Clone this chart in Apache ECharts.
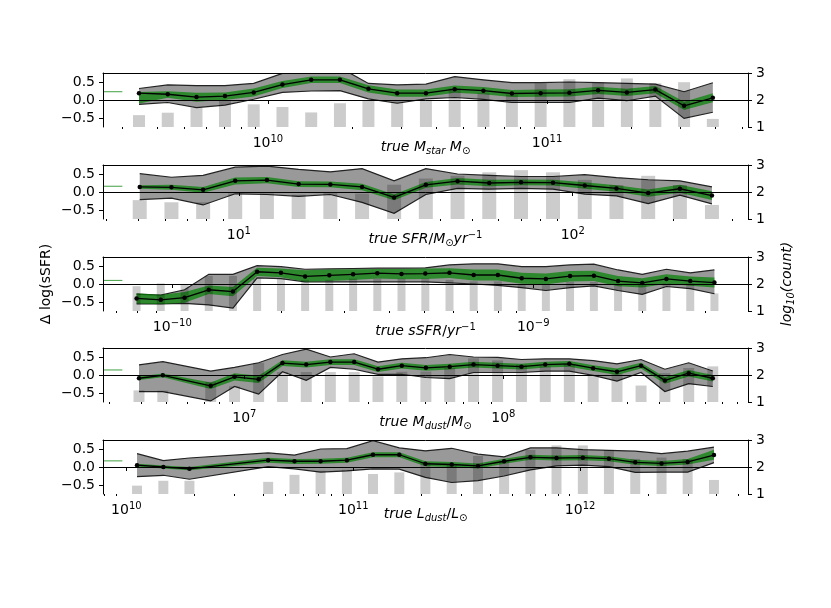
<!DOCTYPE html>
<html>
<head>
<meta charset="utf-8">
<script src="https://cdn.jsdelivr.net/npm/echarts@6/dist/echarts.min.js"></script>
<style>
  html, body { margin: 0; padding: 0; background: #fff; }
  #chart { width: 831px; height: 608px; }
</style>
</head>
<body>
<div id="chart"></div>
<script>
// bin centres are log10 of the x quantity
// --- panel 1: stellar mass
const mstarBins = [9.538, 9.641, 9.744, 9.846, 9.949, 10.052, 10.155, 10.258, 10.360, 10.463, 10.566,
                   10.669, 10.772, 10.874, 10.977, 11.080, 11.183, 11.286, 11.388, 11.491, 11.594];
const mstarMed = [0.19, 0.16, 0.08, 0.11, 0.21, 0.43, 0.56, 0.56, 0.31, 0.19, 0.19, 0.30, 0.26, 0.18, 0.19, 0.20, 0.27, 0.21, 0.29, -0.16, 0.06];
const mstarLo  = [-0.12, -0.07, -0.21, -0.14, 0.02, 0.21, 0.25, 0.26, 0.03, -0.09, 0.03, 0.07, 0.02, -0.07, -0.07, -0.07, 0.05, -0.02, 0.11, -0.51, -0.34];
const mstarHi  = [0.32, 0.42, 0.40, 0.40, 0.46, 0.74, 0.90, 0.90, 0.46, 0.42, 0.44, 0.65, 0.56, 0.48, 0.48, 0.50, 0.48, 0.46, 0.44, 0.23, 0.48];
const mstarGLo = [-0.10, 0.06, -0.05, 0.00, 0.10, 0.33, 0.47, 0.47, 0.21, 0.09, 0.09, 0.20, 0.16, 0.08, 0.09, 0.10, 0.17, 0.11, 0.19, -0.28, -0.06];
const mstarGHi = [0.22, 0.24, 0.20, 0.21, 0.32, 0.53, 0.65, 0.65, 0.41, 0.29, 0.29, 0.40, 0.36, 0.28, 0.29, 0.30, 0.37, 0.31, 0.39, -0.05, 0.19];
const mstarCount = [1.44, 1.53, 1.71, 2.00, 1.84, 1.74, 1.54, 1.88, 1.97, 1.94, 1.97, 2.43, 2.25, 2.20, 2.62, 2.77, 2.64, 2.80, 2.62, 2.66, 1.30];

// --- panel 2: SFR
const sfrBins = [0.703, 0.798, 0.893, 0.989, 1.084, 1.179, 1.274, 1.369, 1.465, 1.560,
                 1.655, 1.750, 1.845, 1.941, 2.036, 2.131, 2.226, 2.321, 2.417];
const sfrMed = [0.14, 0.13, 0.06, 0.31, 0.33, 0.22, 0.21, 0.14, -0.15, 0.20, 0.30, 0.25, 0.27, 0.26, 0.18, 0.10, -0.03, 0.09, -0.10];
const sfrLo  = [-0.21, -0.17, -0.36, -0.05, -0.07, -0.12, -0.07, -0.29, -0.59, -0.07, 0.10, 0.08, 0.10, 0.08, -0.06, -0.11, -0.32, -0.09, -0.33];
const sfrHi  = [0.51, 0.41, 0.46, 0.69, 0.72, 0.63, 0.56, 0.65, 0.31, 0.65, 0.50, 0.46, 0.43, 0.43, 0.48, 0.40, 0.34, 0.31, 0.14];
const sfrGLo = [0.09, 0.06, -0.02, 0.21, 0.24, 0.14, 0.13, 0.05, -0.23, 0.12, 0.21, 0.16, 0.19, 0.18, 0.09, 0.01, -0.13, -0.02, -0.22];
const sfrGHi = [0.19, 0.20, 0.14, 0.40, 0.42, 0.30, 0.29, 0.23, -0.07, 0.28, 0.39, 0.34, 0.35, 0.34, 0.27, 0.19, 0.07, 0.20, 0.02];
const sfrCount = [1.70, 1.62, 1.62, 1.95, 1.95, 1.90, 2.00, 1.94, 2.27, 2.50, 2.60, 2.73, 2.81, 2.73, 2.45, 2.26, 2.60, 2.26, 1.52];

// --- panel 3: sSFR
const ssfrBins = [-10.099, -10.032, -9.966, -9.899, -9.832, -9.765, -9.699, -9.632, -9.565, -9.499, -9.432, -9.365, -9.299,
                  -9.232, -9.165, -9.098, -9.032, -8.965, -8.898, -8.832, -8.765, -8.698, -8.631, -8.565, -8.498];
const ssfrMed = [-0.40, -0.44, -0.38, -0.16, -0.21, 0.34, 0.31, 0.21, 0.24, 0.27, 0.30, 0.28, 0.29, 0.31, 0.25, 0.25, 0.16, 0.14, 0.22, 0.23, 0.08, 0.03, 0.14, 0.08, 0.04];
const ssfrLo  = [-0.55, -0.55, -0.54, -0.58, -0.67, 0.17, 0.15, 0.06, 0.06, 0.06, 0.06, 0.06, 0.06, 0.03, 0.00, -0.04, -0.10, -0.18, -0.10, -0.05, -0.18, -0.29, -0.07, -0.13, -0.27];
const ssfrHi  = [-0.28, -0.31, -0.16, 0.27, 0.27, 0.51, 0.48, 0.41, 0.42, 0.43, 0.44, 0.44, 0.45, 0.53, 0.56, 0.56, 0.48, 0.48, 0.53, 0.55, 0.39, 0.27, 0.41, 0.31, 0.39];
const ssfrGLo = [-0.54, -0.56, -0.52, -0.28, -0.34, 0.22, 0.19, 0.06, 0.08, 0.11, 0.15, 0.13, 0.14, 0.17, 0.10, 0.10, 0.01, -0.01, 0.07, 0.08, -0.06, -0.10, 0.01, -0.05, -0.10];
const ssfrGHi = [-0.26, -0.30, -0.22, -0.04, -0.08, 0.45, 0.43, 0.38, 0.40, 0.41, 0.42, 0.42, 0.43, 0.44, 0.40, 0.40, 0.31, 0.29, 0.36, 0.37, 0.22, 0.16, 0.27, 0.21, 0.18];
const ssfrCount = [1.92, 2.02, 1.98, 2.30, 2.30, 2.20, 2.20, 2.15, 2.15, 2.20, 2.20, 2.20, 2.20, 2.15, 2.10, 2.10, 2.00, 2.00, 2.08, 2.08, 1.96, 1.96, 2.02, 2.02, 1.65];

// --- panel 4: dust mass (null = empty bin)
const mdustBins = [6.593, 6.685, 6.778, 6.870, 6.962, 7.055, 7.147, 7.239, 7.332, 7.424, 7.516, 7.608, 7.701,
                   7.793, 7.885, 7.978, 8.070, 8.162, 8.255, 8.347, 8.439, 8.532, 8.624, 8.716, 8.809];
const mdustMed = [-0.09, -0.01, null, -0.30, -0.05, -0.12, 0.33, 0.29, 0.36, 0.36, 0.16, 0.26, 0.20, 0.23, 0.29, 0.26, 0.23, 0.29, 0.31, 0.19, 0.09, 0.26, -0.15, 0.05, -0.09];
const mdustLo  = [-0.46, -0.46, null, -0.72, -0.32, -0.53, 0.09, -0.15, 0.21, 0.16, 0.02, 0.02, -0.07, -0.10, 0.07, 0.07, 0.07, 0.11, 0.11, -0.01, -0.17, 0.07, -0.46, -0.24, -0.32];
const mdustHi  = [0.28, 0.37, null, 0.11, 0.21, 0.34, 0.57, 0.72, 0.50, 0.59, 0.36, 0.45, 0.48, 0.57, 0.50, 0.49, 0.43, 0.45, 0.45, 0.40, 0.31, 0.43, 0.16, 0.34, 0.11];
const mdustGLo = [-0.14, -0.06, null, -0.39, -0.15, -0.22, 0.25, 0.21, 0.28, 0.28, 0.08, 0.18, 0.12, 0.15, 0.21, 0.18, 0.15, 0.21, 0.23, 0.11, 0.00, 0.18, -0.24, -0.04, -0.18];
const mdustGHi = [-0.04, 0.04, null, -0.21, 0.05, -0.02, 0.41, 0.37, 0.44, 0.44, 0.24, 0.34, 0.28, 0.31, 0.37, 0.34, 0.31, 0.37, 0.39, 0.27, 0.18, 0.34, -0.06, 0.14, 0.00];
const mdustCount = [1.43, 1.42, null, 1.75, 1.58, 2.45, 2.11, 2.11, 2.11, 2.11, 1.95, 2.12, 2.13, 2.26, 2.62, 2.54, 2.38, 2.32, 2.38, 2.01, 2.05, 1.61, 2.07, 2.26, 2.32];

// --- panel 5: dust luminosity
const ldustBins = [10.047, 10.163, 10.278, 10.394, 10.509, 10.625, 10.741, 10.856, 10.972, 11.087, 11.203, 11.318,
                   11.434, 11.550, 11.665, 11.781, 11.896, 12.012, 12.127, 12.243, 12.359, 12.474, 12.590];
const ldustMed = [0.05, 0.00, -0.05, null, null, 0.19, 0.16, 0.16, 0.19, 0.34, 0.34, 0.09, 0.07, 0.03, 0.16, 0.27, 0.25, 0.26, 0.23, 0.13, 0.10, 0.14, 0.33];
const ldustLo  = [-0.27, -0.23, -0.34, null, null, 0.01, -0.05, -0.14, -0.11, -0.05, -0.06, -0.29, -0.43, -0.38, -0.25, -0.08, 0.03, 0.05, 0.01, -0.15, -0.14, -0.14, 0.12];
const ldustHi  = [0.37, 0.18, 0.25, null, null, 0.39, 0.33, 0.50, 0.51, 0.73, 0.53, 0.45, 0.52, 0.36, 0.28, 0.53, 0.53, 0.48, 0.46, 0.44, 0.37, 0.44, 0.55];
const ldustGLo = [0.01, -0.04, -0.09, null, null, 0.12, 0.08, 0.09, 0.12, 0.27, 0.27, 0.02, 0.00, -0.04, 0.09, 0.20, 0.18, 0.19, 0.16, 0.06, 0.03, 0.07, 0.20];
const ldustGHi = [0.09, 0.04, 0.00, null, null, 0.26, 0.22, 0.23, 0.26, 0.41, 0.41, 0.16, 0.14, 0.10, 0.23, 0.34, 0.32, 0.33, 0.30, 0.20, 0.17, 0.22, 0.48];
const ldustCount = [1.31, 1.49, 1.49, null, null, 1.45, 1.71, 1.86, 1.90, 1.74, 1.80, 2.17, 2.10, 2.41, 2.23, 2.63, 2.80, 2.80, 2.63, 2.30, 2.35, 2.29, 1.52];

// short green reference marks at the left of each panel
const refLevels = [0.23, 0.16, 0.10, 0.14, 0.17];

const panels = [
  { bins: mstarBins, med: mstarMed, lo: mstarLo, hi: mstarHi, glo: mstarGLo, ghi: mstarGHi, count: mstarCount,
    min: 9.409, max: 11.72, barW: 12, name: 'true M{sub|star} M{sub|⊙}' },
  { bins: sfrBins, med: sfrMed, lo: sfrLo, hi: sfrHi, glo: sfrGLo, ghi: sfrGHi, count: sfrCount,
    min: 0.593, max: 2.525, barW: 14, name: 'true SFR{up|/}M{sub|⊙}yr{sup|−1}' },
  { bins: ssfrBins, med: ssfrMed, lo: ssfrLo, hi: ssfrHi, glo: ssfrGLo, ghi: ssfrGHi, count: ssfrCount,
    min: -10.192, max: -8.405, barW: 8, name: 'true sSFR{up|/}yr{sup|−1}' },
  { bins: mdustBins, med: mdustMed, lo: mdustLo, hi: mdustHi, glo: mdustGLo, ghi: mdustGHi, count: mdustCount,
    min: 6.454, max: 8.945, barW: 11, name: 'true M{sub|dust}{up|/}M{sub|⊙}' },
  { bins: ldustBins, med: ldustMed, lo: ldustLo, hi: ldustHi, glo: ldustGLo, ghi: ldustGHi, count: ldustCount,
    min: 9.897, max: 12.74, barW: 10, name: 'true L{sub|dust}{up|/}L{sub|⊙}' }
];

const tops = [73, 165, 257, 348, 440];
const FONT = 'DejaVu Sans';

const pairs = (xs, ys) => xs.map((x, i) => [x, ys[i]]).filter(p => p[1] != null);
const triples = (xs, lo, hi) => xs.map((x, i) => [x, lo[i], hi[i]]).filter(p => p[1] != null);

function majorTicks(min, max) {
  const out = [];
  for (let e = Math.ceil(min); e <= Math.floor(max); e++) out.push(e);
  return out;
}
function minorTicks(min, max) {
  const out = [];
  for (let e = Math.floor(min); e <= Math.ceil(max); e++) {
    for (let k = 2; k <= 9; k++) {
      const v = e + Math.log10(k);
      if (v > min && v < max) out.push(v);
    }
  }
  return out;
}

// filled band between lo and hi, drawn once per series through the axis scales
function bandSeries(xi, yi, rows, fill, edge, z) {
  return {
    type: 'custom', xAxisIndex: xi, yAxisIndex: yi, z: z, silent: true,
    data: rows, encode: { x: 0, y: [1, 2] },
    renderItem: (params, api) => {
      if (params.dataIndex !== 0) return;
      const upper = rows.map(r => api.coord([r[0], r[2]]));
      const lower = rows.map(r => api.coord([r[0], r[1]]));
      const cs = params.coordSys;
      const children = [{
        type: 'polygon', shape: { points: upper.concat(lower.slice().reverse()) },
        style: { fill: fill, stroke: null }
      }];
      if (edge) {
        children.push({ type: 'polyline', shape: { points: upper }, style: { fill: null, stroke: edge, lineWidth: 1.2 } });
        children.push({ type: 'polyline', shape: { points: lower }, style: { fill: null, stroke: edge, lineWidth: 1.2 } });
      }
      return {
        type: 'group', children: children,
        clipPath: { type: 'rect', shape: { x: cs.x, y: cs.y, width: cs.width, height: cs.height } }
      };
    }
  };
}

const nameRich = {
  sub: { fontFamily: FONT, fontSize: 10, fontStyle: 'italic', lineHeight: 10, verticalAlign: 'bottom' },
  sup: { fontFamily: FONT, fontSize: 10, fontStyle: 'normal', lineHeight: 10, verticalAlign: 'top' },
  up: { fontFamily: FONT, fontSize: 14, fontStyle: 'normal', lineHeight: 18 }
};

const grids = [], xAxes = [], yAxes = [], series = [];

panels.forEach((p, i) => {
  grids.push({ left: 103, width: 645, top: tops[i], height: 54, outerBoundsMode: 'none', containLabel: false });

  // main bottom axis with decade labels
  xAxes.push({
    type: 'value', gridIndex: i, min: p.min, max: p.max, position: 'bottom', z: 10,
    axisLine: { show: true, lineStyle: { color: '#000', width: 1 } },
    axisTick: { show: true, customValues: majorTicks(p.min, p.max), length: 4, lineStyle: { color: '#000' } },
    axisLabel: {
      show: true, customValues: majorTicks(p.min, p.max), margin: 7,
      formatter: v => '{b|10}{s|' + (v < 0 ? '−' + (-v) : v) + '}',
      rich: {
        b: { fontFamily: FONT, fontSize: 14, color: '#000', lineHeight: 18 },
        s: { fontFamily: FONT, fontSize: 10, color: '#000', lineHeight: 10, verticalAlign: 'top' }
      }
    },
    splitLine: { show: false },
    name: p.name, nameLocation: 'middle', nameGap: 11, nameMoveOverlap: false,
    nameTextStyle: { fontFamily: FONT, fontSize: 14, fontStyle: 'italic', color: '#000', lineHeight: 18,
                     verticalAlign: 'top', rich: nameRich }
  });
  // minor ticks
  xAxes.push({
    type: 'value', gridIndex: i, min: p.min, max: p.max, position: 'bottom', z: 10,
    axisLine: { show: false },
    axisTick: { show: true, customValues: minorTicks(p.min, p.max), length: 2, lineStyle: { color: '#000' } },
    axisLabel: { show: false }, splitLine: { show: false }
  });
  // top spine
  xAxes.push({
    type: 'value', gridIndex: i, min: p.min, max: p.max, position: 'top', z: 10,
    axisLine: { show: true, lineStyle: { color: '#000', width: 1 } },
    axisTick: { show: false }, axisLabel: { show: false }, splitLine: { show: false }
  });

  yAxes.push({
    type: 'value', gridIndex: i, min: -0.75, max: 0.75, position: 'left', z: 10,
    axisLine: { show: true, lineStyle: { color: '#000', width: 1 } },
    axisTick: { show: true, customValues: [-0.5, 0, 0.5], length: 4, lineStyle: { color: '#000' } },
    axisLabel: {
      customValues: [-0.5, 0, 0.5], margin: 8, fontFamily: FONT, fontSize: 14, color: '#000',
      formatter: v => (v < 0 ? '−' : '') + Math.abs(v).toFixed(1)
    },
    splitLine: { show: false },
    name: i === 2 ? 'Δ log(sSFR)' : '', nameLocation: 'middle', nameGap: 50, nameMoveOverlap: false,
    nameTextStyle: { fontFamily: FONT, fontSize: 14, color: '#000' }
  });
  yAxes.push({
    type: 'value', gridIndex: i, min: 1, max: 3, startValue: 1, position: 'right', z: 10,
    axisLine: { show: true, lineStyle: { color: '#000', width: 1 } },
    axisTick: { show: true, customValues: [1, 2, 3], length: 4, lineStyle: { color: '#000' } },
    axisLabel: { customValues: [1, 2, 3], margin: 8, fontFamily: FONT, fontSize: 14, color: '#000' },
    splitLine: { show: false },
    name: i === 2 ? 'log{s|10}(count)' : '', nameLocation: 'middle', nameGap: 30, nameMoveOverlap: false,
    nameTextStyle: {
      fontFamily: FONT, fontSize: 14, fontStyle: 'italic', color: '#000', lineHeight: 18,
      rich: { s: { fontFamily: FONT, fontSize: 10, lineHeight: 10, verticalAlign: 'bottom' } }
    }
  });

  const xi = 3 * i, yl = 2 * i, yr = 2 * i + 1;

  series.push(bandSeries(xi, yl, triples(p.bins, p.lo, p.hi), '#999999', '#222', 2));
  series.push(bandSeries(xi, yl, triples(p.bins, p.glo, p.ghi), 'rgba(0,128,0,0.7)', null, 3));

  // median with dots, plus the zero line
  series.push({
    type: 'line', xAxisIndex: xi, yAxisIndex: yl, data: pairs(p.bins, p.med), z: 4,
    symbol: 'circle', symbolSize: 4.5, showSymbol: true,
    itemStyle: { color: '#000' }, lineStyle: { color: '#000', width: 1.3 },
    markLine: {
      silent: true, symbol: ['none', 'none'], label: { show: false },
      lineStyle: { color: '#555', width: 0.9, type: 'solid' },
      data: [{ yAxis: 0 }]
    }
  });
  // green reference mark
  series.push({
    type: 'line', xAxisIndex: xi, yAxisIndex: yl, z: 4, symbol: 'none', silent: true,
    data: [[p.min, refLevels[i]], [p.min + 0.03 * (p.max - p.min), refLevels[i]]],
    lineStyle: { color: 'rgba(0,128,0,0.75)', width: 1 }
  });
  // histogram on the right axis
  series.push({
    type: 'bar', xAxisIndex: xi, yAxisIndex: yr, data: pairs(p.bins, p.count), z: 5,
    barWidth: p.barW, itemStyle: { color: 'rgba(0,0,0,0.2)' }, silent: true
  });
});

const chart = echarts.init(document.getElementById('chart'));
chart.setOption({
  animation: false,
  backgroundColor: '#fff',
  grid: grids,
  xAxis: xAxes,
  yAxis: yAxes,
  series: series
});
</script>
</body>
</html>
